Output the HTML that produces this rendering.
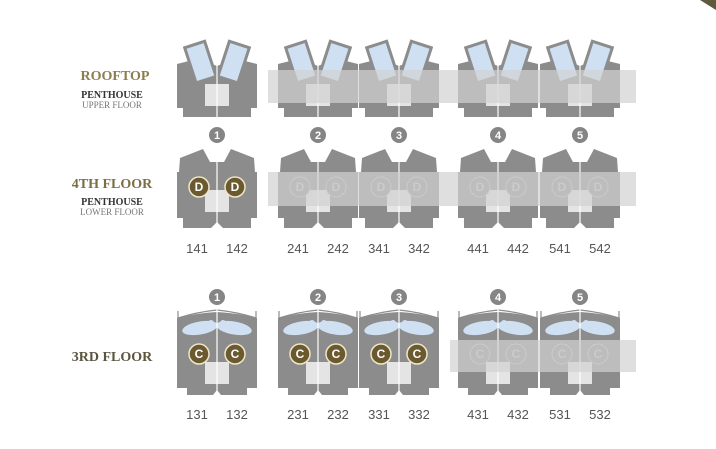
<!DOCTYPE html>
<html><head><meta charset="utf-8"><style>
html,body{margin:0;padding:0;background:#fff}
svg{display:block}
.t{font-family:"Liberation Serif",serif;font-weight:bold}
.n{font-family:"Liberation Sans",sans-serif;font-size:13px;fill:#555}
</style></head><body>
<svg width="716" height="449" viewBox="0 0 716 449" xmlns="http://www.w3.org/2000/svg">
<defs>
<g id="roof">
  <path d="M-40,64 L-24,60 L-10,62 L0,66 L10,62 L24,60 L40,64 L40,108 L34,108 L34,117 L-34,117 L-34,108 L-40,108 Z" fill="#8c8c8c"/>
  <g transform="translate(-16,64) rotate(-18)"><rect x="-12" y="-22" width="24" height="40" fill="#8c8c8c"/><rect x="-9" y="-19" width="18" height="34" fill="#cfe0f3"/></g>
  <g transform="translate(16,64) rotate(18)"><rect x="-12" y="-22" width="24" height="40" fill="#8c8c8c"/><rect x="-9" y="-19" width="18" height="34" fill="#cfe0f3"/></g>
  <rect x="-12" y="84" width="24" height="22" fill="#e4e4e4"/>
  <line x1="0" y1="52" x2="0" y2="117" stroke="#fff" stroke-width="1.2"/>
</g>
<g id="fourth">
  <path d="M-37,158 L-14,149 L-7,162 L7,162 L14,149 L37,158 L38,172 L40,172 L40,218 L34,218 L34,228 L6,228 L0,222 L-6,228 L-34,228 L-34,218 L-40,218 L-40,172 L-38,172 Z" fill="#8c8c8c"/>
  <rect x="-12" y="190" width="24" height="22" fill="#e4e4e4"/>
  <line x1="0" y1="162" x2="0" y2="226" stroke="#fff" stroke-width="1.2"/>
</g>
<g id="third">
  <path d="M-40,318 Q-20,313 0,312 Q20,313 40,318 L40,388 L30,388 L30,395 L4,395 L0,390 L-4,395 L-30,395 L-30,388 L-40,388 Z" fill="#8c8c8c"/>
  <path d="M-39,320 L-39,311 M39,320 L39,311 M-39,318 Q-20,312 0,310 Q20,312 39,318" stroke="#8c8c8c" fill="none" stroke-width="1.2"/>
  <ellipse cx="-17" cy="328" rx="18" ry="6.5" fill="#cfe0f3" transform="rotate(-10 -17 328)"/>
  <ellipse cx="17" cy="328" rx="18" ry="6.5" fill="#cfe0f3" transform="rotate(10 17 328)"/>
  <circle cx="-6" cy="323" r="3" fill="#cfe0f3"/><circle cx="6" cy="323" r="3" fill="#cfe0f3"/>
  <rect x="-12" y="362" width="24" height="22" fill="#e4e4e4"/>
  <line x1="0" y1="306" x2="0" y2="393" stroke="#fff" stroke-width="1.2"/>
</g>
</defs>

<polygon points="700,0 716,0 716,10" fill="#5f5a3e"/>

<text class="t" x="115" y="80" text-anchor="middle" font-size="14" fill="#8b7d4f">ROOFTOP</text>
<text class="t" x="112" y="98" text-anchor="middle" font-size="10" fill="#333">PENTHOUSE</text>
<text x="112" y="108" text-anchor="middle" font-size="9" fill="#777" font-family="Liberation Serif,serif">UPPER FLOOR</text>
<text class="t" x="112" y="188" text-anchor="middle" font-size="14" fill="#7a6e45">4TH FLOOR</text>
<text class="t" x="112" y="205" text-anchor="middle" font-size="10" fill="#333">PENTHOUSE</text>
<text x="112" y="215" text-anchor="middle" font-size="9" fill="#777" font-family="Liberation Serif,serif">LOWER FLOOR</text>
<text class="t" x="112" y="361" text-anchor="middle" font-size="14" fill="#5b5540">3RD FLOOR</text>

<g>
<use href="#roof" x="217"/><use href="#roof" x="318"/><use href="#roof" x="399"/><use href="#roof" x="498"/><use href="#roof" x="580"/>
<use href="#fourth" x="217"/><use href="#fourth" x="318"/><use href="#fourth" x="399"/><use href="#fourth" x="498"/><use href="#fourth" x="580"/>
<use href="#third" x="217"/><use href="#third" x="318"/><use href="#third" x="399"/><use href="#third" x="498"/><use href="#third" x="580"/>
</g>

<g font-family="Liberation Sans,sans-serif" font-weight="bold" font-size="12" text-anchor="middle">
<g fill="#6b5a2f" stroke="#efe6c8" stroke-width="1.5">
<circle cx="199" cy="187" r="10"/><circle cx="235" cy="187" r="10"/>
<circle cx="199" cy="354" r="10"/><circle cx="235" cy="354" r="10"/>
<circle cx="300" cy="354" r="10"/><circle cx="336" cy="354" r="10"/>
<circle cx="381" cy="354" r="10"/><circle cx="417" cy="354" r="10"/>
</g>
<g fill="#fff">
<text x="199" y="191">D</text><text x="235" y="191">D</text>
<text x="199" y="358">C</text><text x="235" y="358">C</text>
<text x="300" y="358">C</text><text x="336" y="358">C</text>
<text x="381" y="358">C</text><text x="417" y="358">C</text>
</g>
<g fill="#8c8c8c" stroke="#bbb" stroke-width="1">
<circle cx="300" cy="187" r="10"/><circle cx="336" cy="187" r="10"/><circle cx="381" cy="187" r="10"/><circle cx="417" cy="187" r="10"/>
<circle cx="480" cy="187" r="10"/><circle cx="516" cy="187" r="10"/><circle cx="562" cy="187" r="10"/><circle cx="598" cy="187" r="10"/>
<circle cx="480" cy="354" r="10"/><circle cx="516" cy="354" r="10"/><circle cx="562" cy="354" r="10"/><circle cx="598" cy="354" r="10"/>
</g>
<g fill="#bbb">
<text x="300" y="191">D</text><text x="336" y="191">D</text><text x="381" y="191">D</text><text x="417" y="191">D</text>
<text x="480" y="191">D</text><text x="516" y="191">D</text><text x="562" y="191">D</text><text x="598" y="191">D</text>
<text x="480" y="358">C</text><text x="516" y="358">C</text><text x="562" y="358">C</text><text x="598" y="358">C</text>
</g>
</g>

<rect x="268" y="70" width="368" height="33" fill="#d2d2d2" opacity="0.7"/>
<rect x="268" y="172" width="368" height="34" fill="#d2d2d2" opacity="0.7"/>
<rect x="450" y="340" width="186" height="32" fill="#d2d2d2" opacity="0.7"/>

<g font-family="Liberation Sans,sans-serif" font-weight="bold" font-size="11" text-anchor="middle">
<g fill="#858585">
<circle cx="217" cy="135" r="8"/><circle cx="318" cy="135" r="8"/><circle cx="399" cy="135" r="8"/><circle cx="498" cy="135" r="8"/><circle cx="580" cy="135" r="8"/>
<circle cx="217" cy="297" r="8"/><circle cx="318" cy="297" r="8"/><circle cx="399" cy="297" r="8"/><circle cx="498" cy="297" r="8"/><circle cx="580" cy="297" r="8"/>
</g>
<g fill="#fff">
<text x="217" y="139">1</text><text x="318" y="139">2</text><text x="399" y="139">3</text><text x="498" y="139">4</text><text x="580" y="139">5</text>
<text x="217" y="301">1</text><text x="318" y="301">2</text><text x="399" y="301">3</text><text x="498" y="301">4</text><text x="580" y="301">5</text>
</g>
</g>

<g class="n" text-anchor="middle">
<text x="197" y="253">141</text><text x="237" y="253">142</text>
<text x="298" y="253">241</text><text x="338" y="253">242</text>
<text x="379" y="253">341</text><text x="419" y="253">342</text>
<text x="478" y="253">441</text><text x="518" y="253">442</text>
<text x="560" y="253">541</text><text x="600" y="253">542</text>
<text x="197" y="419">131</text><text x="237" y="419">132</text>
<text x="298" y="419">231</text><text x="338" y="419">232</text>
<text x="379" y="419">331</text><text x="419" y="419">332</text>
<text x="478" y="419">431</text><text x="518" y="419">432</text>
<text x="560" y="419">531</text><text x="600" y="419">532</text>
</g>
</svg>
</body></html>
